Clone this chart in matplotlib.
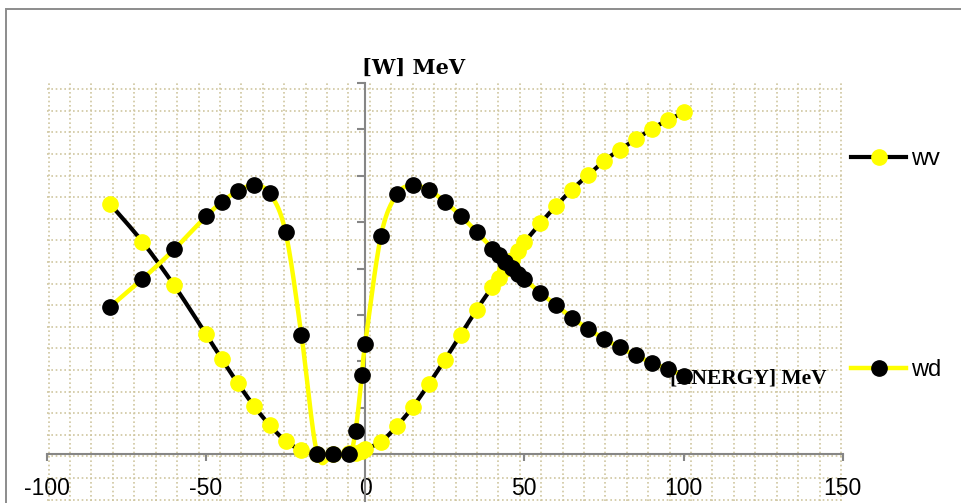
import numpy as np
import matplotlib
matplotlib.use("Agg")
import matplotlib.pyplot as plt
from matplotlib.lines import Line2D
from matplotlib.patches import Rectangle

# energy grid (MeV) and the two potentials
energy = [-80, -70, -60, -50, -45, -40, -35, -30, -25, -20, -15, -10, -5, -3, -1, 0,
          5, 10, 15, 20, 25, 30, 35, 40, 42, 44, 46, 48, 50,
          55, 60, 65, 70, 75, 80, 85, 90, 95, 100]
wv = [5.38, 4.58, 3.64, 2.59, 2.05, 1.53, 1.05, 0.63, 0.29, 0.09, 0.01, 0.0, 0.02, 0.03, 0.08, 0.11,
      0.27, 0.61, 1.02, 1.51, 2.03, 2.57, 3.11, 3.61, 3.80, 3.99, 4.18, 4.37, 4.56,
      4.97, 5.35, 5.70, 6.01, 6.31, 6.56, 6.78, 7.01, 7.19, 7.36]
wd = [3.18, 3.77, 4.41, 5.12, 5.43, 5.67, 5.79, 5.62, 4.79, 2.57, 0.0, 0.0, 0.0, 0.51, 1.71, 2.37,
      4.71, 5.60, 5.79, 5.69, 5.44, 5.14, 4.79, 4.43, 4.29, 4.15, 4.01, 3.88, 3.77,
      3.48, 3.21, 2.94, 2.70, 2.49, 2.30, 2.13, 1.97, 1.84, 1.69]

xticks = [-100, -50, 0, 50, 100, 150]
yticks = [0, 1, 2, 3, 4, 5, 6, 7, 8]


def smooth(x, y, n=24):
    # Excel-like smoothed line: cubic Bezier through each pair of points
    x = np.asarray(x, float)
    y = np.asarray(y, float)
    px = np.concatenate([[x[0]], x, [x[-1]]])
    py = np.concatenate([[y[0]], y, [y[-1]]])
    t = np.linspace(0, 1, n)[:, None]
    xs, ys = [], []
    for i in range(1, len(px) - 2):
        p0 = np.array([px[i], py[i]])
        p3 = np.array([px[i + 1], py[i + 1]])
        p1 = p0 + (np.array([px[i + 1], py[i + 1]]) - np.array([px[i - 1], py[i - 1]])) / 6
        p2 = p3 - (np.array([px[i + 2], py[i + 2]]) - np.array([px[i], py[i]])) / 6
        seg = ((1 - t) ** 3) * p0 + 3 * ((1 - t) ** 2) * t * p1 + 3 * (1 - t) * t ** 2 * p2 + t ** 3 * p3
        xs.append(seg[:, 0])
        ys.append(seg[:, 1])
    return np.concatenate(xs), np.concatenate(ys)


W, H = 961, 503
fig = plt.figure(figsize=(W / 100, H / 100), dpi=100)
ax = fig.add_axes([46.7 / W, (H - 500.75) / H, 796 / W, 418.05 / H])
ax.set_xlim(-100, 150)
ax.set_ylim(-1, 8)

# chart area border (only top and left edges are visible)
fig.patches.append(Rectangle((6 / W, -0.2), 1.2, 1.2 - 9 / H, transform=fig.transFigure,
                             fill=False, edgecolor="#8c8c8c", linewidth=1.4))

# dotted-grid pattern of the plot area
grid_col = "#cfc6a0"
for gx in np.arange(-99.4, 150.5, 6.726):
    ax.axvline(gx, color=grid_col, lw=1.2, ls=(0, (1.0, 1.6)), zorder=0)
for gy in np.arange(7.858, -1.0, -0.465):
    ax.axhline(gy, color=grid_col, lw=1.2, ls=(0, (1.0, 1.6)), zorder=0)

sx, sy = smooth(energy, wv)
ax.plot(sx, sy, color="black", lw=3.0, zorder=3, solid_capstyle="round")
ax.plot(energy, wv, ls="none", marker="o", ms=11, mfc="#ffff00", mec="#ffff00", zorder=4)

sx, sy = smooth(energy, wd)
ax.plot(sx, sy, color="#ffff00", lw=3.2, zorder=5, solid_capstyle="round")
ax.plot(energy, wd, ls="none", marker="o", ms=11, mfc="black", mec="black", zorder=6)

# axes crossing at the origin
for s in ["top", "right"]:
    ax.spines[s].set_visible(False)
ax.spines["left"].set_position(("data", 0))
ax.spines["bottom"].set_position(("data", 0))
for s in ["left", "bottom"]:
    ax.spines[s].set_color("#868686")
    ax.spines[s].set_linewidth(1.5)
    ax.spines[s].set_zorder(2)

ax.set_xticks(xticks)
ax.set_xticklabels([str(v) for v in xticks], fontfamily="Liberation Sans", fontsize=16.5)
ax.set_yticks(yticks)
ax.set_yticklabels([])
ax.tick_params(axis="x", direction="out", length=5, width=1.5, color="#868686", pad=11)
ax.tick_params(axis="y", direction="out", length=6, width=1.5, color="#868686")

ax.text(-1.0, 8.18, "[W] MeV", family="DejaVu Serif", weight="bold", fontsize=15,
        ha="left", va="baseline", clip_on=False)
ax.text(95.7, 1.53, "[ENERGY] MeV", family="Liberation Serif", weight="bold", fontsize=15.5,
        ha="left", va="baseline", zorder=1)

# legend on the right
handles = [Line2D([], [], color="black", lw=3.0, marker="o", ms=11, mfc="#ffff00", mec="#ffff00"),
           Line2D([], [], color="#ffff00", lw=3.2, marker="o", ms=11, mfc="black", mec="black")]
fig.legend(handles, ["wv", "wd"], loc="upper left", bbox_to_anchor=(851 / W, 1 - 148 / H),
           frameon=False, borderpad=0, borderaxespad=0, handlelength=2.35, handletextpad=0.2,
           labelspacing=8.0, prop={"family": "Liberation Sans", "size": 17})

fig.savefig("out.png", dpi=100)
